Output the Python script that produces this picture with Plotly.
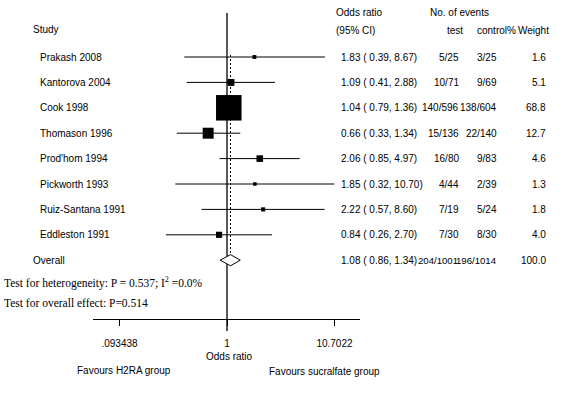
import plotly.graph_objects as go

# ---- data ----
studies = ["Prakash 2008", "Kantorova 2004", "Cook 1998", "Thomason 1996",
           "Prod'hom 1994", "Pickworth 1993", "Ruiz-Santana 1991", "Eddleston 1991"]
odds_ratio = [1.83, 1.09, 1.04, 0.66, 2.06, 1.85, 2.22, 0.84]
ci_low = [0.39, 0.41, 0.79, 0.33, 0.85, 0.32, 0.57, 0.26]
ci_high = [8.67, 2.88, 1.36, 1.34, 4.97, 10.70, 8.60, 2.70]
events_test = ["5/25", "10/71", "140/596", "15/136", "16/80", "4/44", "7/19", "7/30"]
events_control = ["3/25", "9/69", "138/604", "22/140", "9/83", "2/39", "5/24", "8/30"]
weights = [1.6, 5.1, 68.8, 12.7, 4.6, 1.3, 1.8, 4.0]

overall_or = 1.08
overall_low = 0.86
overall_high = 1.34
overall_test = "204/1001"
overall_control = "196/1014"
overall_weight = 100.0

tick_values = [0.093438, 1, 10.7022]
tick_labels = [".093438", "1", "10.7022"]

# ---- layout helpers ----
W, H = 578, 399
ROW0, ROWSTEP = 57.0, 25.4


def ry(px):
    """pixel row -> y data (row index)"""
    return (px - ROW0) / ROWSTEP


def px_x(px):
    return px / W


SANS = "Liberation Sans, Arial, sans-serif"
SERIF = "Liberation Serif, Times New Roman, serif"
FS = 10

fig = go.Figure()

n = len(studies)
rows = list(range(n))
overall_row = n

# CI lines
for i in rows:
    fig.add_trace(go.Scatter(x=[ci_low[i], ci_high[i]], y=[i, i], mode="lines",
                             line=dict(color="black", width=1), hoverinfo="skip",
                             showlegend=False))

# weighted squares
max_w = max(weights)
sizes = [25.5 * (w / max_w) ** 0.5 for w in weights]
fig.add_trace(go.Scatter(x=odds_ratio, y=rows, mode="markers",
                         marker=dict(symbol="square", size=sizes, color="black",
                                     opacity=1, line=dict(width=0)),
                         opacity=1, showlegend=False, hoverinfo="skip"))

# overall diamond
dh = 0.22
fig.add_trace(go.Scatter(
    x=[overall_low, overall_or, overall_high, overall_or, overall_low],
    y=[overall_row, overall_row - dh, overall_row, overall_row + dh, overall_row],
    mode="lines", fill="toself", fillcolor="white",
    line=dict(color="black", width=1), showlegend=False, hoverinfo="skip"))

shapes = [
    # null line
    dict(type="line", xref="x", yref="y", x0=1, x1=1, y0=ry(13), y1=ry(331),
         line=dict(color="black", width=1.3), layer="below"),
    # overall dashed line
    dict(type="line", xref="x", yref="y", x0=overall_or, x1=overall_or,
         y0=ry(55), y1=overall_row + dh, line=dict(color="black", width=1, dash="2px,2px"),
         layer="below"),
]

ann = []


def text(x, y, s, anchor="left", font=SANS, size=FS, yref="y"):
    ann.append(dict(x=px_x(x), y=y, xref="paper", yref=yref, text=s, showarrow=False,
                    xanchor=anchor, yanchor="middle",
                    font=dict(family=font, size=size, color="black")))


# headers
text(31, ry(29), "Study")
text(334, ry(12), "Odds ratio")
text(334, ry(30), "(95% CI)")
text(428, ry(12), "No. of events")
text(465, ry(30), "test", anchor="right")
text(475, ry(30), "control%")
text(551, ry(30), "Weight", anchor="right")

for i in rows:
    text(38, i, studies[i])
    text(339, i, f"{odds_ratio[i]:.2f} ( {ci_low[i]:.2f}, {ci_high[i]:.2f})")
    text(461, i, events_test[i], anchor="right")
    text(499, i, events_control[i], anchor="right")
    text(548, i, f"{weights[i]:.1f}", anchor="right")

text(31, overall_row, "Overall")
text(339, overall_row, f"{overall_or:.2f} ( {overall_low:.2f}, {overall_high:.2f})")
text(460, overall_row, overall_test, anchor="right", size=9.6)
text(499, overall_row, overall_control, anchor="right", size=9.6)
text(548, overall_row, f"{overall_weight:.1f}", anchor="right")

text(2, ry(282), "Test for heterogeneity: P = 0.537; I<sup>2</sup> =0.0%", font=SERIF, size=11.5)
text(2, ry(303), "Test for overall effect: P=0.514", font=SERIF, size=11.5)

text(229, ry(356), "Odds ratio", anchor="center")
text(75, ry(370), "Favours H2RA group")
text(267, ry(371), "Favours sucralfate group")

x_left, x_right, x_null = 93, 360, 227
per_dec = 104.4
log_lo = (x_left - x_null) / per_dec
log_hi = (x_right - x_null) / per_dec

fig.update_layout(
    width=W, height=H,
    margin=dict(l=0, r=0, t=0, b=0),
    paper_bgcolor="white", plot_bgcolor="white",
    showlegend=False,
    shapes=shapes, annotations=ann,
    xaxis=dict(type="log", domain=[x_left / W, x_right / W], range=[log_lo, log_hi],
               anchor="free", position=1 - 319 / H,
               showline=True, linecolor="black", linewidth=1,
               ticks="outside", ticklen=6, tickcolor="black", tickwidth=1,
               ticklabelstandoff=9,
               tickvals=tick_values, ticktext=tick_labels,
               tickfont=dict(family=SANS, size=FS, color="black"),
               showgrid=False, zeroline=False, fixedrange=True),
    yaxis=dict(domain=[0, 1], range=[ry(H), ry(0)], visible=False,
               showgrid=False, zeroline=False, fixedrange=True),
)

fig.write_html("out.html", config={"staticPlot": True},
               post_script="document.body.style.margin='0px';document.body.style.overflow='hidden';")
